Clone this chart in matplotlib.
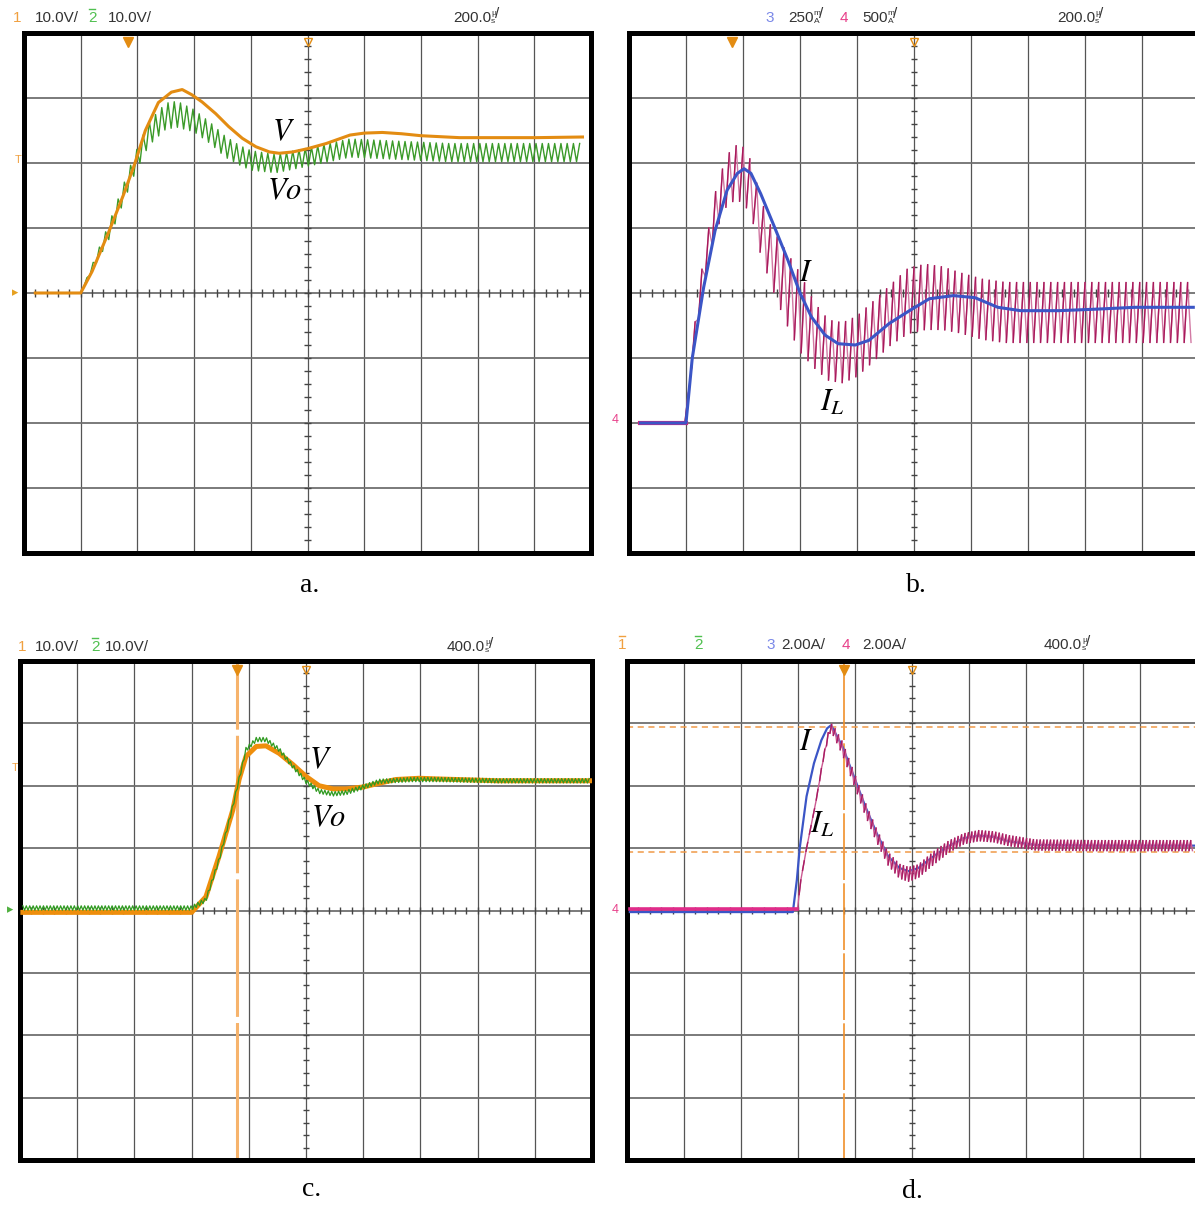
import numpy as np
import matplotlib.pyplot as plt

plt.rcParams['mathtext.fontset'] = 'stix'
HDR = ['Liberation Sans', 'DejaVu Sans']
SERIF = ['Liberation Serif', 'DejaVu Serif']

W, H = 1195, 1207

# ---------------- data read off the scope screens ----------------
# a. 200 us/div, ch1 = V (10 V/div), ch2 = Vo (10 V/div)
a_v_t = [40, 200, 240, 300, 350, 390, 428, 474, 520, 558, 592, 628, 676, 722,
         770, 818, 866, 900, 948, 1000, 1066, 1150, 1200, 1264, 1332, 1400, 1536,
         1672, 1806, 1970]
a_v = [0, 0, 3.3, 9.5, 15.0, 19.8, 25.0, 29.3, 30.9, 31.3, 30.5, 29.4, 27.6,
       25.6, 23.8, 22.5, 21.7, 21.5, 21.7, 22.2, 23.0, 24.3, 24.6, 24.7, 24.5,
       24.2, 23.9, 23.9, 23.9, 24.0]
a_vo_t = [200, 300, 390, 440, 500, 540, 600, 660, 710, 760, 800, 888, 1000,
          1150, 1300, 1500, 1700, 1970]
a_vo = [0, 9.5, 19.8, 24.5, 27.2, 27.5, 26.5, 24.5, 22.5, 21.2, 20.4, 19.9,
        20.9, 22.3, 22.0, 21.6, 21.6, 21.6]
a_vo_rip = [0, 1.2, 1.5, 1.8, 2.0, 2.0, 1.7, 1.6, 1.6, 1.5, 1.5, 1.4, 1.4,
            1.4, 1.4, 1.4, 1.4, 1.4]
a_period = 22  # us

# b. 200 us/div, ch3 = I (250 mA/div), ch4 = IL (500 mA/div), ground 2 div below centre
b_i_t = [40, 200, 222, 262, 302, 344, 380, 404, 428, 462, 510, 558, 600, 640,
         688, 734, 794, 842, 912, 984, 1054, 1138, 1214, 1294, 1374, 1508, 1642,
         1776, 1980]
b_i = [0, 0, 250, 522, 740, 895, 960, 978, 960, 882, 755, 625, 500, 408, 338,
       305, 300, 318, 382, 432, 478, 490, 482, 445, 432, 432, 438, 445, 445]
b_il_t = [40, 200, 220, 260, 300, 340, 370, 400, 430, 460, 500, 550, 600, 650,
          700, 750, 800, 860, 920, 980, 1040, 1100, 1160, 1240, 1320, 1400, 1600,
          1800, 1980]
b_il = [0, 0, 500, 1150, 1600, 1850, 1925, 1910, 1800, 1525, 1275, 1050, 850,
        675, 560, 540, 590, 710, 835, 940, 970, 960, 925, 875, 850, 850, 850,
        850, 850]
b_il_rip = [0, 0, 75, 100, 150, 190, 210, 210, 210, 210, 225, 275, 300, 250,
            230, 230, 230, 230, 230, 250, 250, 240, 230, 230, 230, 230, 230, 230, 230]
b_period = 24  # us

# c. 400 us/div, ch1 = V (10 V/div), ch2 = Vo (10 V/div)
c_v_t = [20, 1200, 1300, 1392, 1488, 1532, 1580, 1652, 1720, 1812, 1908, 2000,
         2092, 2188, 2280, 2400, 2512, 2628, 2792, 2908, 3340, 3608, 3992]
c_v = [-0.3, -0.3, 2.2, 8.7, 16.1, 21.0, 24.7, 26.3, 26.4, 25.2, 23.4, 21.5,
       20.0, 19.5, 19.5, 19.8, 20.4, 21.0, 21.2, 21.1, 20.8, 20.8, 20.8]
c_vo_t = [20, 1200, 1300, 1392, 1488, 1580, 1652, 1720, 1812, 1908, 2000, 2092,
          2188, 2280, 2400, 2512, 2744, 2908, 3340, 3608, 3992]
c_vo = [0.4, 0.4, 1.7, 8.1, 16.7, 25.8, 27.4, 27.4, 25.8, 23.1, 20.7, 19.1,
        18.7, 18.9, 19.8, 20.7, 21.0, 21.0, 20.8, 20.8, 20.8]
c_vo_rip = 0.35
c_period = 24
c_cursor = 1520

# d. 400 us/div, ch3 = I (2 A/div), ch4 = IL (2 A/div)
d_i_t = [20, 1164, 1192, 1212, 1260, 1312, 1364, 1404, 1432, 1512, 1592, 1672,
         1752, 1832, 1912, 1976, 2044, 2152, 2256, 2364, 2468, 2576, 2680, 2868,
         3268, 3980]
d_i = [-0.05, -0.05, 0.98, 2.0, 3.66, 4.72, 5.46, 5.84, 5.94, 5.26, 4.30, 3.34,
       2.48, 1.74, 1.36, 1.26, 1.36, 1.74, 2.06, 2.32, 2.40, 2.36, 2.22, 2.10,
       2.08, 2.08]
d_il_t = [20, 1196, 1220, 1260, 1324, 1380, 1420, 1440, 1512, 1592, 1672, 1752,
          1832, 1912, 1976, 2044, 2152, 2256, 2364, 2468, 2576, 2680, 2868, 3268,
          3980]
d_il = [0.04, 0.04, 0.98, 2.0, 3.44, 4.94, 5.78, 5.84, 5.2, 4.24, 3.26, 2.4,
        1.66, 1.26, 1.16, 1.26, 1.68, 2.04, 2.30, 2.40, 2.36, 2.24, 2.10, 2.08,
        2.08]
d_il_rip = [0, 0, 0, 0, 0, 0.05, 0.1, 0.15, 0.2, 0.2, 0.2, 0.2, 0.2, 0.22,
            0.22, 0.2, 0.2, 0.18, 0.16, 0.16, 0.16, 0.16, 0.16, 0.16, 0.16]
d_period = 24
d_cursor_t = 1524
d_cursor_a = [5.88, 1.86]

ORANGE = '#e38c12'
GREEN = '#3a9a28'
BLUE = '#3b55c6'
PINK = '#a8185a'
PINK_LT = '#d27aa4'


def ripple(t, c, h, period):
    tt = np.arange(t[0], t[-1], period / 2)
    cc = np.interp(tt, t, c)
    hh = np.interp(tt, t, h if np.ndim(h) else np.full(len(t), h))
    s = np.where(np.arange(len(tt)) % 2 == 0, 1.0, -1.0)
    return tt, cc + s * hh


def two_tone(ax, tt, yy, dark, light, lw=1.0, z=3):
    # falling strokes light, rising strokes dark (as on the scope capture)
    ax.plot(tt, yy, color=light, lw=lw, zorder=z)
    n = (len(tt) - 1) // 2
    xs = np.full(3 * n, np.nan)
    ys = np.full(3 * n, np.nan)
    xs[0::3], xs[1::3] = tt[1:2 * n:2], tt[2:2 * n + 1:2]
    ys[0::3], ys[1::3] = yy[1:2 * n:2], yy[2:2 * n + 1:2]
    ax.plot(xs, ys, color=dark, lw=lw, zorder=z)


def px_axes(l, t, r, b):
    return fig.add_axes([l / W, 1 - b / H, (r - l) / W, (b - t) / H])


def screen(ax):
    ax.set_xticks([])
    ax.set_yticks([])
    for s in ax.spines.values():
        s.set_linewidth(3.6)
    tr = ax.transAxes
    for i in range(1, 10):
        ax.plot([i / 10] * 2, [0, 1], transform=tr, color='#555555', lw=0.9, zorder=1)
    for j in range(1, 8):
        ax.plot([0, 1], [j / 8] * 2, transform=tr, color='#707070', lw=1.3, zorder=1)
    xs = np.arange(1, 50) / 50
    ys = np.arange(1, 40) / 40
    ax.vlines(xs, 0.5 - 0.008, 0.5 + 0.008, transform=tr, color='#444444', lw=1, zorder=1)
    ax.hlines(ys, 0.5 - 0.006, 0.5 + 0.006, transform=tr, color='#444444', lw=1, zorder=1)


def trig(ax, xfrac):
    ax.plot([xfrac], [0.982], marker='v', ms=7, color=ORANGE, transform=ax.transAxes,
            clip_on=False, zorder=6)
    ax.plot([0.5], [0.982], marker='v', ms=6, mfc='none', mec=ORANGE, mew=1,
            transform=ax.transAxes, clip_on=False, zorder=6)


fig = plt.figure(figsize=(W / 100, H / 100), dpi=100)
bg = fig.add_axes([0, 0, 1, 1])
bg.set_xlim(0, W)
bg.set_ylim(H, 0)
bg.axis('off')

# ---------------- a ----------------
ax = px_axes(24, 33, 591, 553)
screen(ax)
ax.set_xlim(0, 2000)
ax.set_ylim(-40, 40)
tt, yy = ripple(a_vo_t, a_vo, a_vo_rip, a_period)
ax.plot(tt, yy, color=GREEN, lw=1.0, zorder=3)
ax.plot(a_v_t, a_v, color=ORANGE, lw=2.2, zorder=4)
trig(ax, 0.183)
ax.text(0.457, 0.81, '$V$', transform=ax.transAxes, fontsize=22, ha='center', va='center')
ax.text(0.46, 0.6975, '$Vo$', transform=ax.transAxes, fontsize=22, ha='center', va='center')

# ---------------- b ----------------
ax = px_axes(629, 33, 1199, 553)
screen(ax)
ax.set_xlim(0, 2000)
ax.set_ylim(-1000, 3000)
tt, yy = ripple(b_il_t, b_il, b_il_rip, b_period)
two_tone(ax, tt, yy, PINK, PINK_LT)
ax.plot(b_il_t[:2], b_il[:2], color='#d8247a', lw=3, zorder=3)
ax2 = ax.twinx()
ax2.axis('off')
ax2.set_ylim(-500, 1500)
ax2.plot(b_i_t, b_i, color=BLUE, lw=2.2, zorder=4)
trig(ax, 0.181)
ax.text(0.31, 0.54, '$I$', transform=ax.transAxes, fontsize=22, ha='center', va='center')
ax.text(0.356, 0.29, '$I_L$', transform=ax.transAxes, fontsize=22, ha='center', va='center')

# ---------------- c ----------------
ax = px_axes(20, 661, 592, 1160)
screen(ax)
ax.set_xlim(0, 4000)
ax.set_ylim(-40, 40)
ax.axvline(c_cursor, color='#f6b36c', lw=2.2, dashes=(45, 2), zorder=2)
ax.plot(c_v_t, c_v, color='#ee8e0c', lw=3.6, zorder=3)
tt, yy = ripple(c_vo_t, c_vo, c_vo_rip, c_period)
ax.plot(tt, yy, color='#2f9a20', lw=0.9, zorder=4)
trig(ax, c_cursor / 4000)
ax.text(0.525, 0.8025, '$V$', transform=ax.transAxes, fontsize=22, ha='center', va='center')
ax.text(0.54, 0.686, '$Vo$', transform=ax.transAxes, fontsize=22, ha='center', va='center')

# ---------------- d ----------------
ax = px_axes(627, 661, 1197, 1160)
screen(ax)
ax.set_xlim(0, 4000)
ax.set_ylim(-8, 8)
ax.axvline(d_cursor_t, color='#f0902a', lw=1.2, dashes=(40, 2), zorder=2)
for v in d_cursor_a:
    ax.axhline(v, color='#f09a48', lw=1.1, dashes=(4, 3), zorder=2)
ax.plot(d_i_t, d_i, color=BLUE, lw=1.6, zorder=3)
tt, yy = ripple(d_il_t, d_il, d_il_rip, d_period)
two_tone(ax, tt, yy, '#a81c62', '#cc5a92', z=4)
ax.plot(d_il_t[:2], d_il[:2], color='#e02c8a', lw=2.6, zorder=4)
trig(ax, d_cursor_t / 4000)
ax.text(0.314, 0.839, '$I$', transform=ax.transAxes, fontsize=22, ha='center', va='center')
ax.text(0.342, 0.6725, '$I_L$', transform=ax.transAxes, fontsize=22, ha='center', va='center')


# ---------------- header read-outs ----------------
def unit(x, y, num, top, bot, color='#333333'):
    t = bg.text(x, y, num, fontsize=11, color=color, family=HDR, va='center', ha='left')
    bg.annotate(top, xy=(1, 0.55), xycoords=t, fontsize=6, color=color, family=HDR,
                va='bottom', ha='left')
    b = bg.annotate(bot, xy=(1, 0.5), xycoords=t, fontsize=6, color=color, family=HDR,
                    va='top', ha='left')
    bg.annotate('/', xy=(1, 0.5), xycoords=b, fontsize=11, color=color, family=HDR,
                va='bottom', ha='left')


def label(x, y, s, color='#333333', size=11, bar=False):
    bg.text(x, y, s, fontsize=size, color=color, family=HDR, va='center', ha='left')
    if bar:
        bg.plot([x + 1, x + 7], [y - 9, y - 9], color=color, lw=1)


label(13, 18, '1', '#f0a040')
label(35, 18, '10.0V/')
label(88, 18, '2', '#50c050', bar=True)
label(108, 18, '10.0V/')
unit(453, 18, '200.0', '\u00b5', 's')
label(765, 18, '3', '#7a88e8')
unit(788, 18, '250', 'm', 'A')
label(840, 18, '4', '#e8408a')
unit(862, 18, '500', 'm', 'A')
unit(1057, 18, '200.0', '\u00b5', 's')

label(18, 647, '1', '#f0a040')
label(35, 647, '10.0V/')
label(91, 647, '2', '#50c050', bar=True)
label(105, 647, '10.0V/')
unit(447, 647, '400.0', '\u00b5', 's')
label(618, 645, '1', '#f0a040', bar=True)
label(694, 645, '2', '#50c050', bar=True)
label(766, 645, '3', '#7a88e8')
label(781, 645, '2.00A/')
label(842, 645, '4', '#e8408a')
label(862, 645, '2.00A/')
unit(1044, 645, '400.0', '\u00b5', 's')

# channel / trigger markers at the left edges
label(15, 160, 'T', '#f0a040', 8)
label(12, 293, '\u25b8', '#e6a020', 9)
label(29, 292, '1', '#f0a040', 9)
label(612, 420, '4', '#e8408a', 9)
label(632, 417, '4', '#e8408a', 9)
label(12, 768, 'T', '#f0a040', 8)
label(7, 910, '\u25b8', '#50b040', 9)
label(612, 910, '4', '#e8408a', 9)

# panel captions
for x, y, s in [(310, 585, 'a.'), (916, 585, 'b.'), (312, 1190, 'c.'), (912, 1192, 'd.')]:
    bg.text(x, y, s, fontsize=20, family=SERIF, ha='center', va='center')

fig.savefig('out.png', dpi=100)
